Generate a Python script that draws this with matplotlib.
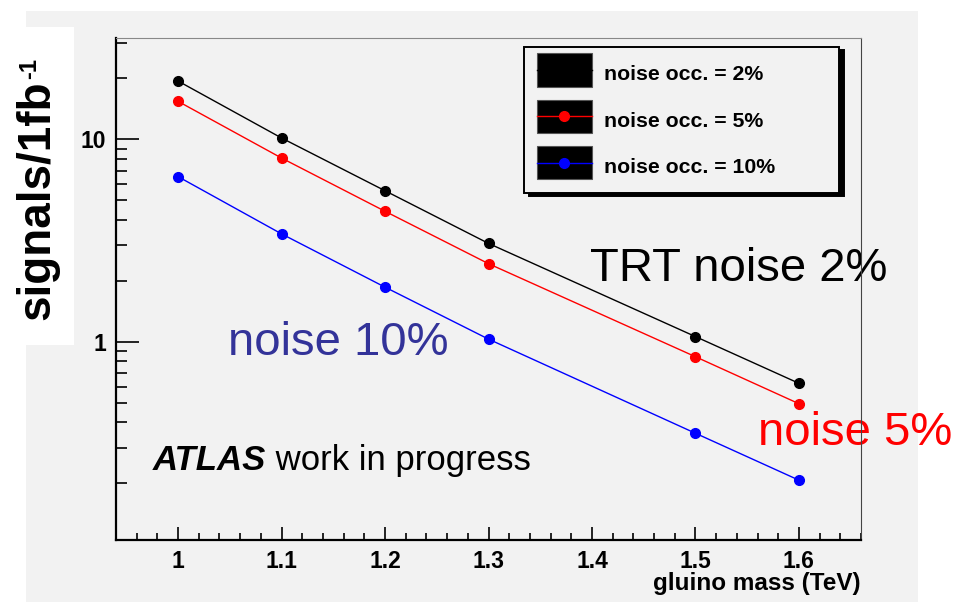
import matplotlib
matplotlib.use("Agg")
import matplotlib.pyplot as plt
import matplotlib.ticker as ticker
from matplotlib.patches import Rectangle, Patch
from matplotlib.lines import Line2D
from matplotlib.text import Annotation
from matplotlib.legend_handler import HandlerTuple, HandlerPatch

plt.rcParams['font.family'] = ['Liberation Sans', 'DejaVu Sans']

# gluino mass points (TeV) and expected signals per 1 fb-1
mass = [1.0, 1.1, 1.2, 1.3, 1.5, 1.6]
sig_2pct = [19.4, 10.15, 5.57, 3.06, 1.06, 0.623]
sig_5pct = [15.4, 8.08, 4.41, 2.43, 0.843, 0.494]
sig_10pct = [6.54, 3.41, 1.86, 1.03, 0.353, 0.207]

labels = ['noise occ. = 2%', 'noise occ. = 5%', 'noise occ. = 10%']
colors = ['black', 'red', 'blue']

W, H = 956, 602
panel = '#f2f2f2'


def px(x, y):
    # pixel position -> figure fraction
    return x / W, 1 - y / H


def swatch(legend, orig_handle, xdescent, ydescent, width, height, fontsize):
    # filled box centred on the legend line
    yc = (height - ydescent) / 2
    return Rectangle((-xdescent, yc - 0.78 * fontsize), width, 1.56 * fontsize)


fig = plt.figure(figsize=(W / 100, H / 100), dpi=100)
fig.patch.set_facecolor('white')

# grey canvas and white box behind the y title
fig.patches.append(Rectangle(px(26, 602), (918 - 26) / W, (602 - 11) / H,
                             transform=fig.transFigure, facecolor=panel,
                             edgecolor='none', zorder=-10))
fig.patches.append(Rectangle(px(0, 345), 74 / W, (345 - 27) / H,
                             transform=fig.transFigure, facecolor='white',
                             edgecolor='none', zorder=-9))

ax = fig.add_axes([116 / W, 62 / H, 745 / W, 502 / H])
ax.set_facecolor(panel)

for vals, c, lab in zip([sig_2pct, sig_5pct, sig_10pct], colors, labels):
    ax.plot(mass, vals, color=c, lw=1, marker='o', ms=7, label=lab)

ax.set_yscale('log')
ax.set_xlim(0.94, 1.66)
ax.set_ylim(0.1048, 31.66)

ax.xaxis.set_major_locator(ticker.MultipleLocator(0.1))
ax.xaxis.set_minor_locator(ticker.MultipleLocator(0.02))
ax.xaxis.set_major_formatter(ticker.FuncFormatter(lambda v, p: f"{round(v, 2):g}"))
ax.yaxis.set_major_formatter(ticker.FuncFormatter(lambda v, p: f"{v:g}"))
ax.yaxis.set_minor_formatter(ticker.NullFormatter())

ax.tick_params(axis='x', which='major', direction='in', length=9.5, width=1.2,
               pad=7, labelsize=16.5, top=False)
ax.tick_params(axis='x', which='minor', direction='in', length=5, width=1.2, top=False)
ax.tick_params(axis='y', which='major', direction='in', length=16.5, width=1.2,
               pad=7, labelsize=16.5, right=False)
ax.tick_params(axis='y', which='minor', direction='in', length=8, width=1.2, right=False)
for lab in ax.get_xticklabels() + ax.get_yticklabels():
    lab.set_fontweight('bold')

ax.spines['left'].set_linewidth(1.6)
ax.spines['bottom'].set_linewidth(1.6)
ax.spines['right'].set_color('#444444')
ax.spines['top'].set_color('#888888')

ax.set_xlabel('gluino mass (TeV)', fontsize=17.5, fontweight='bold', va='top', ha='right')
ax.xaxis.set_label_coords(1.0, -0.064)

# legend: black boxes with the line and marker drawn on top
handles = []
for c in colors:
    box = Patch(facecolor='black', edgecolor='#555555', lw=0.8)
    ln = Line2D([], [], color=c, lw=1, marker='o', ms=7)
    handles.append((box, ln))
leg = ax.legend(handles, labels,
                handler_map={tuple: HandlerTuple(ndivide=1, pad=0),
                             Patch: HandlerPatch(patch_func=swatch)},
                loc='upper left', bbox_to_anchor=(0.5477, 0.6992, 0.4228, 0.2829),
                mode='expand', borderaxespad=0, fancybox=False, framealpha=1,
                facecolor=panel, edgecolor='black', handlelength=2.6,
                handleheight=1.6, handletextpad=0.55, borderpad=0.6,
                labelspacing=0.9, prop={'size': 15.3, 'weight': 'bold'},
                shadow={'ox': 3.5, 'oy': -2.5, 'facecolor': 'black',
                        'edgecolor': 'black', 'alpha': 1})
leg.get_frame().set_linewidth(1.4)

# labels placed on the canvas
ax.text(*px(590, 281), 'TRT noise 2%', transform=fig.transFigure, fontsize=34,
        color='black', va='baseline', ha='left', zorder=2.4, clip_on=False)
ax.text(*px(228, 355), 'noise 10%', transform=fig.transFigure, fontsize=34,
        color='#333399', va='baseline', ha='left', zorder=2.4, clip_on=False)
ax.text(*px(758, 445), 'noise 5%', transform=fig.transFigure, fontsize=34,
        color='red', va='baseline', ha='left', zorder=2.4, clip_on=False)

atlas = ax.text(*px(153, 470), 'ATLAS', transform=fig.transFigure, fontsize=25,
                fontweight='bold', fontstyle='italic', va='baseline', ha='left')
ax.annotate(' work in progress', xy=(1, 0), xycoords=atlas, fontsize=25,
            va='bottom', ha='left')

# y title with a small raised "-1"
ytitle = fig.text(*px(37, 200), 'signals/1fb', rotation=90, fontsize=33,
                  fontweight='bold', ha='center', va='center')
fig.add_artist(Annotation('-1', xy=(0, 1), xycoords=ytitle, xytext=(2, 1),
                          textcoords='offset points', rotation=90, fontsize=17,
                          fontweight='bold', ha='left', va='bottom'))

fig.savefig('out.png', dpi=100, facecolor=fig.get_facecolor())
